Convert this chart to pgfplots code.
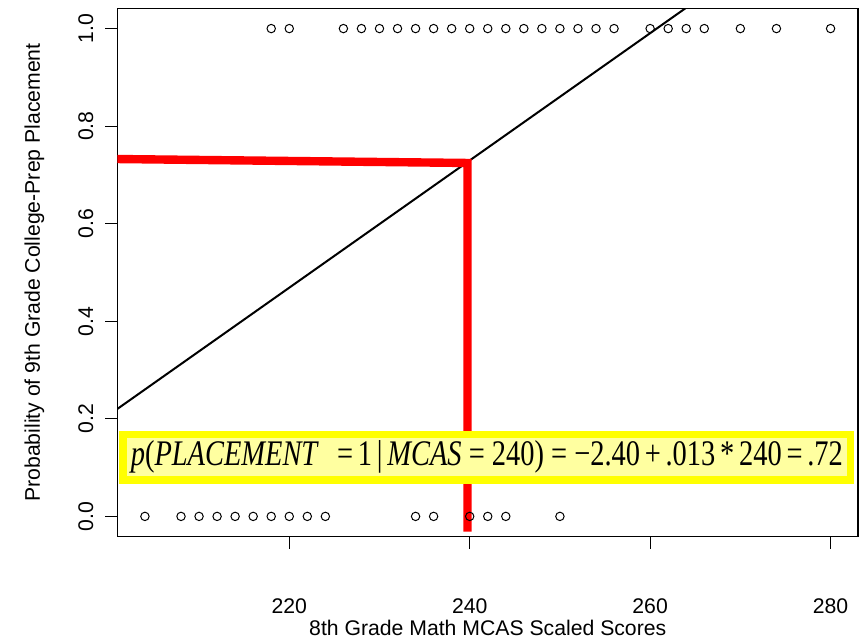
\documentclass[border=0pt]{standalone}
\usepackage{pgfplots}
\pgfplotsset{compat=1.18}
\usepackage{fontspec}
\usepackage{graphicx}
\setmainfont{Liberation Sans}
\newfontfamily\tnr{Liberation Serif}
\definecolor{paleyellow}{RGB}{255,255,160}
\begin{document}
\begin{tikzpicture}
\begin{axis}[
 scale only axis, width=370.25pt, height=264.2pt,
 xmin=200.96, xmax=283.04, ymin=-0.0416, ymax=1.0416,
 xtick={220,240,260,280}, ytick={0,0.2,0.4,0.6,0.8,1.0},
 tick align=outside, tick pos=left, major tick length=6pt,
 tick style={black, line width=0.5pt},
 axis line style={line width=0.6pt},
 font=\fontsize{10.6}{12}\selectfont,
 /pgf/number format/assume math mode=true,
 yticklabel style={rotate=90, anchor=south, yshift=2.5pt, /pgf/number format/fixed, /pgf/number format/precision=1, /pgf/number format/fixed zerofill},
 xticklabel style={anchor=center, yshift=-29pt},
 xlabel={8th Grade Math MCAS Scaled Scores},
 ylabel={Probability of 9th Grade College-Prep Placement},
 xlabel style={at={(axis description cs:0.5,0)}, anchor=center, yshift=-45.5pt},
 ylabel style={at={(axis description cs:0,0.5)}, anchor=center, yshift=41.5pt},
 clip=true,
]
\addplot[only marks, mark=o, mark size=2.1pt, mark options={line width=0.5pt, black}] coordinates {
(204,0) (208,0) (210,0) (212,0) (214,0) (216,0) (218,0) (220,0) (222,0) (224,0)
(234,0) (236,0) (240,0) (242,0) (244,0) (250,0)
(218,1) (220,1) (226,1) (228,1) (230,1) (232,1) (234,1) (236,1) (238,1) (240,1)
(242,1) (244,1) (246,1) (248,1) (250,1) (252,1) (254,1) (256,1) (260,1) (262,1)
(264,1) (266,1) (270,1) (274,1) (280,1)
};
\addplot[black, line width=1pt] coordinates {(200,0.208) (270,1.121)};
\addplot[red, line width=4.2pt, line join=miter] coordinates {(199,0.733) (239.75,0.7245) (239.75,-0.031)};
\node[fill=paleyellow, draw={rgb,255:red,255;green,255;blue,0}, line width=3.75pt, inner sep=0pt,
 minimum width=363.75pt, minimum height=22.75pt] at (axis cs:241.9,0.121)
 {\resizebox{356pt}{\height}{\fontsize{18}{20}\tnr\itshape p\upshape(\itshape PLACEMENT\upshape\hspace{0.7em}=\,1\,|\,\itshape MCAS\upshape\ = 240) = −2.40\,+\,.013\,*\,240\,=\,.72}};
\end{axis}
\pgfresetboundingbox
\path ([shift={(-58.75pt,-51.15pt)}]current axis.south west) rectangle ([shift={(1.5pt,4.15pt)}]current axis.north east);
\end{tikzpicture}
\end{document}
